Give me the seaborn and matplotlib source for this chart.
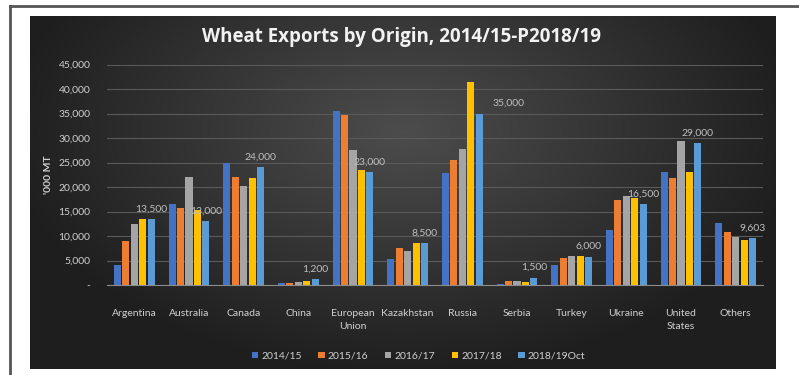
import matplotlib
matplotlib.use("Agg")
import matplotlib.pyplot as plt
import numpy as np
import pandas as pd
import seaborn as sns

# Wheat exports by origin ('000 MT)
origins = ['Argentina', 'Australia', 'Canada', 'China', 'European\nUnion', 'Kazakhstan',
           'Russia', 'Serbia', 'Turkey', 'Ukraine', 'United\nStates', 'Others']
years = ['2014/15', '2015/16', '2016/17', '2017/18', '2018/19Oct']

y2014 = [4100, 16500, 25000, 500, 35500, 5300, 22900, 200, 4000, 11200, 23100, 12700]
y2015 = [8900, 15800, 22100, 500, 34700, 7500, 25600, 800, 5500, 17400, 21900, 10750]
y2016 = [12350, 22100, 20200, 550, 27600, 7000, 27800, 800, 6000, 18150, 29300, 9700]
y2017 = [13500, 15300, 21900, 800, 23400, 8500, 41400, 550, 6000, 17700, 23100, 9250]
y2018 = [13500, 13000, 24000, 1200, 23000, 8500, 35000, 1500, 5800, 16500, 29000, 9603]
forecast_labels = ['13,500', '13,000', '24,000', '1,200', '23,000', '8,500',
                   '35,000', '1,500', '6,000', '16,500', '29,000', '9,603']

colors = ['#4472C4', '#ED7D31', '#A5A5A5', '#FFC000', '#5B9BD5']

df = pd.DataFrame({
    'origin': origins * 5,
    'year': np.repeat(years, len(origins)),
    'value': y2014 + y2015 + y2016 + y2017 + y2018,
})

plt.rcParams['font.family'] = ['Lato', 'DejaVu Sans']

fig = plt.figure(figsize=(7.99, 3.75), dpi=100)
fig.patch.set_facecolor('white')

# dark gradient panel behind the chart
bg = fig.add_axes([30 / 799, 1 - 369 / 375, 746 / 799, 353 / 375])
gx = np.linspace(-1, 1, 300)
gy = np.linspace(-1, 1, 150)
X, Y = np.meshgrid(gx, gy)
r = np.sqrt((X / 1.0) ** 2 + ((Y + 0.35) / 1.3) ** 2)
shade = np.clip(0.30 - 0.17 * r, 0.12, 0.30)
bg.imshow(np.dstack([shade] * 3), aspect='auto', extent=[0, 1, 0, 1], origin='upper')
bg.set_axis_off()

# thin outer frame
fig.add_artist(plt.Line2D([10 / 799, 10 / 799], [0, 1 - 6 / 375], transform=fig.transFigure,
                          color='#555555', lw=2))
fig.add_artist(plt.Line2D([10 / 799, 1], [1 - 6 / 375, 1 - 6 / 375], transform=fig.transFigure,
                          color='#555555', lw=2))

ax = fig.add_axes([107 / 799, 1 - 285 / 375, 656 / 799, 220.5 / 375])
ax.set_facecolor('none')
sns.barplot(data=df, x='origin', y='value', hue='year', palette=colors,
            width=0.77, gap=0.15, ax=ax, saturation=1, legend=True)

ax.set_ylim(0, 45000)
ax.set_yticks(range(0, 45001, 5000))
ax.set_yticklabels(['-'] + [f'{v:,}' for v in range(5000, 45001, 5000)])
ax.yaxis.grid(True, color='#5a5a5a', lw=0.8)
ax.set_axisbelow(True)
for s in ['top', 'right', 'left']:
    ax.spines[s].set_visible(False)
ax.spines['bottom'].set_color('#8c8c8c')
ax.tick_params(axis='both', length=0, colors='#d0d0d0', labelsize=7.5)
ax.tick_params(axis='y', pad=12)
ax.tick_params(axis='x', pad=17)
ax.set_xlabel('')
ax.set_ylabel("'000 MT", color='#d0d0d0', fontsize=7.5, fontweight='bold', labelpad=4)
for t in ax.get_xticklabels():
    t.set_linespacing(1.6)

# data labels on the forecast bars
fc = ax.containers[4]
x_shift = [0, 0, 0, 0, 0, 0, 21, 0, 0, 0, 0, 0]
for bar, lab, dx in zip(fc, forecast_labels, x_shift):
    ax.annotate(lab, (bar.get_x() + bar.get_width() / 2, bar.get_height()),
                xytext=(dx, 4), textcoords='offset points', ha='center', va='bottom',
                color='#bfbfbf', fontsize=7.5)

leg = ax.legend(loc='upper center', bbox_to_anchor=(0.475, -0.26), ncol=5, frameon=False,
                fontsize=7.5, handlelength=0.6, handleheight=0.6, handletextpad=0.3,
                columnspacing=1.6)
for t in leg.get_texts():
    t.set_color('#d0d0d0')

fig.text(402 / 799, 1 - 37 / 375, 'Wheat Exports by Origin, 2014/15-P2018/19', ha='center',
         va='center', color='#f2f2f2', fontsize=13.5, fontweight='bold',
         family=['Open Sans', 'DejaVu Sans'])

fig.savefig('out.png', dpi=100)
